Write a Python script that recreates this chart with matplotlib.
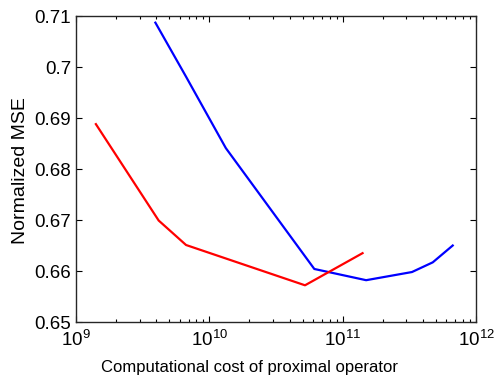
import matplotlib
matplotlib.use("Agg")
import matplotlib.pyplot as plt
from matplotlib.ticker import LogLocator

plt.rcParams['font.family'] = ['Liberation Sans', 'DejaVu Sans']
plt.rcParams['mathtext.fontset'] = 'custom'
plt.rcParams['mathtext.rm'] = 'Liberation Sans'
plt.rcParams['mathtext.default'] = 'regular'

blue_x = [3.94e9, 6.69e9, 1.33e10, 6.13e10, 1.50e11, 3.31e11, 4.74e11, 6.69e11]
blue_y = [0.7087, 0.6981, 0.6841, 0.6604, 0.6582, 0.6598, 0.6617, 0.6650]
red_x = [1.41e9, 4.17e9, 6.69e9, 5.22e10, 1.41e11]
red_y = [0.6888, 0.6699, 0.6651, 0.6572, 0.6635]

y_ticks = [0.65, 0.66, 0.67, 0.68, 0.69, 0.70, 0.71]
y_labels = ['0.65', '0.66', '0.67', '0.68', '0.69', '0.7', '0.71']
x_ticks = [1e9, 1e10, 1e11, 1e12]
x_labels = ['$10^{9}$', '$10^{10}$', '$10^{11}$', '$10^{12}$']

fig = plt.figure(figsize=(4.95, 3.75), dpi=100)
ax = fig.add_axes([0.1535, 0.1413, 0.8081, 0.816])
ax.plot(blue_x, blue_y, color='#0000ff', lw=1.6)
ax.plot(red_x, red_y, color='#ff0000', lw=1.6)
ax.set_xscale('log')
ax.set_xlim(1e9, 1e12)
ax.set_ylim(0.65, 0.71)
ax.set_xticks(x_ticks)
ax.set_xticklabels(x_labels)
ax.xaxis.set_minor_locator(LogLocator(base=10, subs=range(2, 10)))
ax.set_yticks(y_ticks)
ax.set_yticklabels(y_labels)
ax.tick_params(which='both', direction='in', top=True, right=True, labelsize=13.5, width=0.8)
ax.tick_params(which='major', length=4)
ax.tick_params(which='minor', length=2.2)
ax.tick_params(axis='x', pad=6)
ax.tick_params(axis='y', pad=3.5)
for s in ax.spines.values():
    s.set_linewidth(1.0)
    s.set_color('#262626')
ax.set_xlabel('Computational cost of proximal operator', fontsize=12)
ax.xaxis.set_label_coords(0.434, -0.124)
ax.set_ylabel('Normalized MSE', fontsize=14)
ax.yaxis.set_label_coords(-0.1175, 0.494)
fig.savefig('out.png', dpi=100)
